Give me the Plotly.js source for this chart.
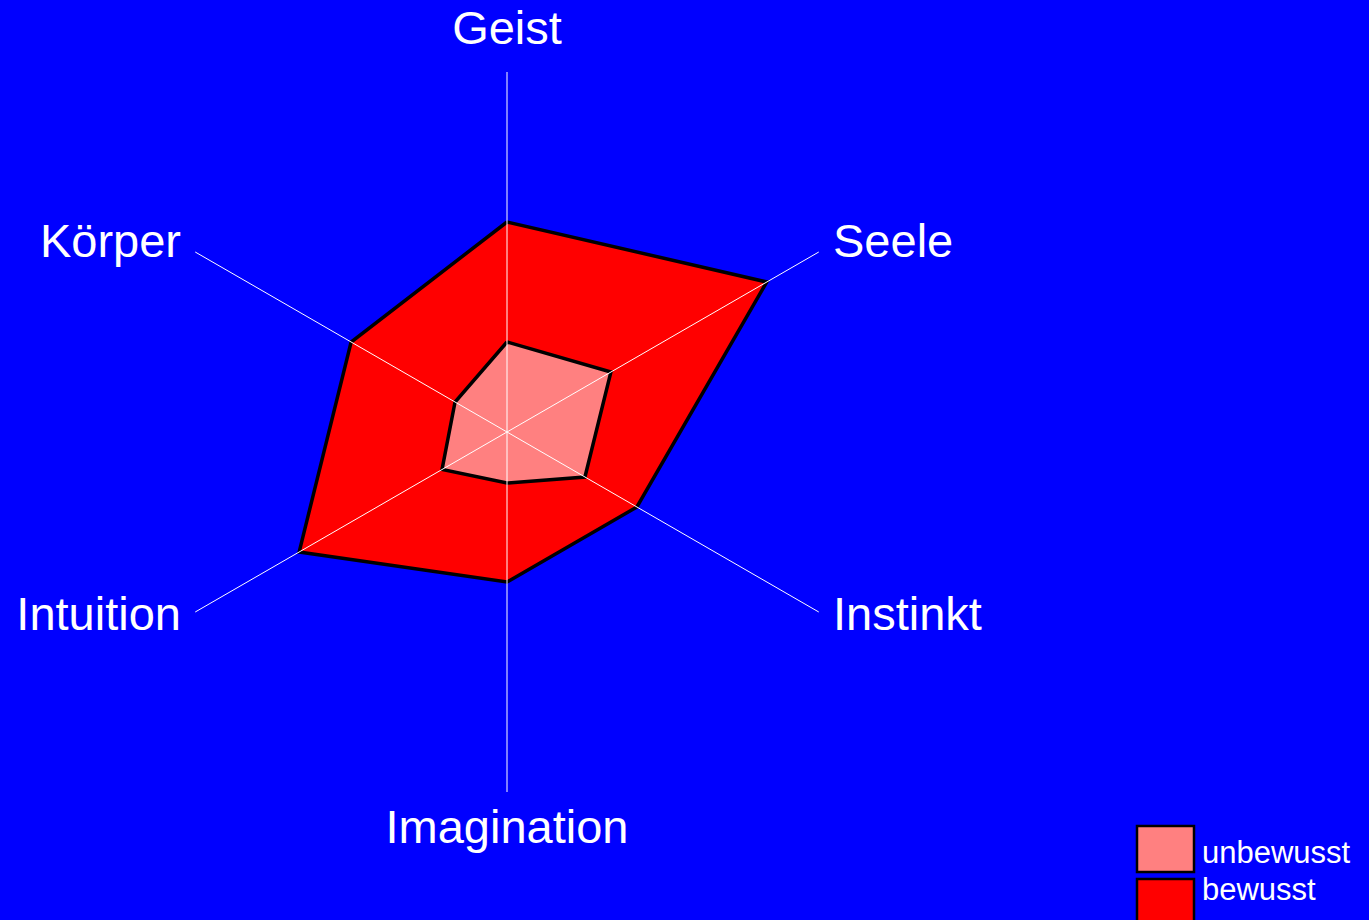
<!DOCTYPE html>
<html>
<head>
<meta charset="utf-8">
<script src="https://cdn.plot.ly/plotly-3.0.1.min.js"></script>
<style>html,body{margin:0;padding:0;background:#0000ff;}#chart{width:1369px;height:920px;}</style>
</head>
<body>
<div id="chart"></div>
<script>
const categories = ["Geist", "Seele", "Instinkt", "Imagination", "Intuition", "Körper"];
const bewusst = [7, 10, 5, 5, 8, 6];
const unbewusst = [3, 4, 3, 1.7, 2.5, 2];
const seriesNames = ["unbewusst", "bewusst"];
const seriesColors = ["#ff8080", "#ff0000"];
const radialMax = 12;

const FONT = "Liberation Sans, Arial, Helvetica, sans-serif";
const W = 1369, H = 920;
const CX = 507, CY = 432;          // centre of the radar, px
const RADIUS_PX = 360;              // spoke length, px
const labelGapPx = 13;              // labels sit this far beyond the spoke ends
const OUTER_PX = RADIUS_PX + labelGapPx;
const labelR = radialMax * OUTER_PX / RADIUS_PX;

function closed(a) { return a.concat([a[0]]); }

const traces = [
  {
    type: "scatterpolar", r: closed(bewusst), theta: closed(categories),
    fill: "toself", fillcolor: seriesColors[1], name: seriesNames[1],
    mode: "lines", line: {color: "#000000", width: 3.5}, showlegend: false, hoverinfo: "skip"
  },
  {
    type: "scatterpolar", r: closed(unbewusst), theta: closed(categories),
    fill: "toself", fillcolor: seriesColors[0], name: seriesNames[0],
    mode: "lines", line: {color: "#000000", width: 3.5}, showlegend: false, hoverinfo: "skip"
  }
];
// spokes drawn above the filled areas
categories.forEach(function (c) {
  traces.push({
    type: "scatterpolar", r: [0, radialMax], theta: [c, c], mode: "lines",
    line: {color: "#ffffff", width: 1}, showlegend: false, hoverinfo: "skip"
  });
});
// category labels around the chart
const labelPositions = categories.map(function (c, i) {
  const ang = (90 - i * 360 / categories.length) * Math.PI / 180;
  const cx = Math.cos(ang), sy = Math.sin(ang);
  if (cx > 0.1) return "middle right";
  if (cx < -0.1) return "middle left";
  return sy > 0 ? "top center" : "bottom center";
});
traces.push({
  type: "scatterpolar",
  r: categories.map(function () { return labelR; }),
  theta: categories, mode: "markers+text", text: categories,
  textposition: labelPositions,
  textfont: {family: FONT, size: 47, color: "#ffffff"},
  marker: {size: 3.2, color: "rgba(0,0,0,0)"},
  cliponaxis: false, showlegend: false, hoverinfo: "skip"
});

const shapes = [], annotations = [];
const legendTop = [826, 879];
const legendText = [852, 889];
seriesNames.forEach(function (n, i) {
  shapes.push({
    type: "rect", xref: "paper", yref: "paper",
    x0: 1137 / W, x1: 1194 / W, y0: 1 - legendTop[i] / H, y1: 1 - (legendTop[i] + 46) / H,
    fillcolor: seriesColors[i], line: {color: "#000000", width: 2.5}
  });
  annotations.push({
    xref: "paper", yref: "paper", x: 1200 / W, y: 1 - legendText[i] / H,
    xanchor: "left", yanchor: "middle", showarrow: false, text: n,
    font: {family: FONT, size: 31, color: "#ffffff"}
  });
});

const layout = {
  width: W, height: H,
  margin: {l: 0, r: 0, t: 0, b: 0},
  paper_bgcolor: "#0000ff", plot_bgcolor: "#0000ff",
  showlegend: false,
  font: {family: FONT, color: "#ffffff"},
  polar: {
    domain: {x: [0, 2 * CX / W], y: [1 - (CY + OUTER_PX) / H, 1 - (CY - OUTER_PX) / H]},
    bgcolor: "#0000ff",
    radialaxis: {visible: false, range: [0, labelR]},
    angularaxis: {
      direction: "clockwise", rotation: 90, showline: false, showgrid: false,
      ticks: "", showticklabels: false
    }
  },
  shapes: shapes,
  annotations: annotations
};

Plotly.newPlot("chart", traces, layout, {staticPlot: true});
</script>
</body>
</html>
